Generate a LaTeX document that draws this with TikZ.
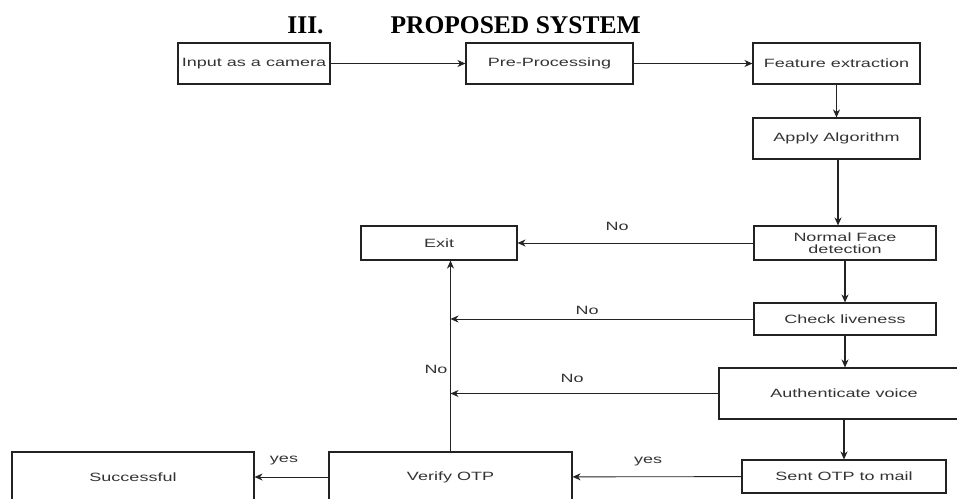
\documentclass[tikz,border=0pt]{standalone}
\usepackage{fontspec}
\usepackage{xcolor}
\usepackage{tikz}
\usetikzlibrary{arrows.meta}
\usetikzlibrary{positioning}
\newfontfamily\flowfont[FakeStretch=1.5]{Liberation Sans}
\newfontfamily\headfont{Liberation Serif}
\definecolor{flowline}{RGB}{34,34,34}
\definecolor{flowtext}{RGB}{51,51,51}

\begin{document}
\begin{tikzpicture}[x=1pt,y=-1pt,
    flowbox/.style={draw=flowline,line width=1.1pt,inner sep=0pt,
      font=\flowfont\fontsize{12}{13}\selectfont,text=flowtext,align=center},
    flowarrow/.style={draw=flowline,line width=0.9pt,
      -{Stealth[length=8pt,width=7pt,inset=2.5pt]}},
    downarrow/.style={flowarrow,line width=1.3pt},
    flowlabel/.style={font=\flowfont\fontsize{12}{13}\selectfont,text=flowtext}]
    \path[use as bounding box,clip] (0,0) rectangle (957,498);
    % title
    \node[font=\headfont\bfseries\fontsize{25.5}{28}\selectfont,anchor=base] (secnum) at (305.5,33) {III.};
    \node[font=\headfont\bfseries\fontsize{25.5}{28}\selectfont,anchor=base west] (sectitle) at (387,33) {PROPOSED SYSTEM};
    % boxes
    \node[flowbox,minimum width=152,minimum height=41] (cam) at (254,63.5) {Input as a camera};
    \node[flowbox,minimum width=167,minimum height=41] (prep) at (549.5,63.5) {Pre-Processing};
    \node[flowbox,minimum width=167,minimum height=41] (feat) at (836.5,63.5) {Feature extraction};
    \node[flowbox,minimum width=167,minimum height=41] (algo) at (836.5,138.5) {Apply Algorithm};
    \node[flowbox,minimum width=182,minimum height=34] (face) at (845,243) {Normal Face\\[-1pt]detection};
    \node[flowbox,minimum width=156,minimum height=34] (exitbox) at (439,243) {Exit};
    \node[flowbox,minimum width=182,minimum height=32] (live) at (845,319) {Check liveness};
    \node[flowbox,minimum width=250,minimum height=51] (voice) at (844,393.5) {Authenticate voice};
    \node[flowbox,minimum width=204,minimum height=33] (mail) at (844,476.5) {Sent OTP to mail};
    \node[flowbox,minimum width=243,minimum height=50] (verify) at (450.5,477) {Verify OTP};
    \node[flowbox,minimum width=242,minimum height=50] (success) at (133,477) {Successful};
    % joints on the line up to Exit
    \coordinate (liveend) at (verify.north |- live.west);
    \coordinate (voiceend) at (verify.north |- voice.west);
    % connectors
    \draw[flowarrow] (cam) -- (prep);
    \draw[flowarrow] (prep) -- (feat);
    \draw[downarrow] (feat) -- (algo);
    \draw[downarrow] ([xshift=1.5pt]algo.south) -- ([xshift=1.5pt]algo.south |- face.north);
    \draw[downarrow] (face.south) -- (face.south |- live.north);
    \draw[downarrow] (live.south) -- (live.south |- voice.north);
    \draw[downarrow] (voice.south) -- (voice.south |- mail.north);
    \draw[flowarrow] (face) -- (exitbox);
    \draw[flowarrow] (live) -- (liveend);
    \draw[flowarrow] (voice) -- (voiceend);
    \draw[downarrow] (verify.north) -- (verify.north |- exitbox.south);
    \draw[flowarrow] (mail) -- (verify);
    \draw[flowarrow] (verify) -- (success);
    % labels
    \node[flowlabel] (nofacelbl) at (617,226) {No};
    \node[flowlabel] (nolivelbl) at (587,310) {No};
    \node[flowlabel] (novoicelbl) at (572,378) {No};
    \node[flowlabel] (nootplbl) at (436,369) {No};
    \node[flowlabel] (yesmaillbl) at (648,462) {yes};
    \node[flowlabel] (yesotplbl) at (284,461) {yes};
\end{tikzpicture}
\end{document}
